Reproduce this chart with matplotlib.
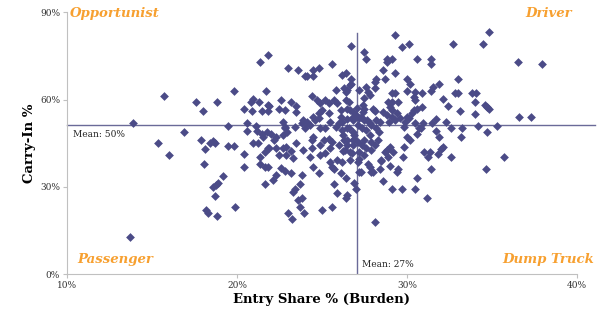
import matplotlib

matplotlib.use("Agg")

import matplotlib.pyplot as plt

# entry share % (x) and carry-in % (y)
entry_share = [
    13.7, 13.9, 15.7, 15.35, 16.0, 16.9, 17.6, 18.0, 18.8, 17.9, 18.1, 18.4, 18.6, 18.7,
    19.5, 19.8, 18.06, 19.2, 18.6, 18.75, 18.9, 18.7, 18.2, 18.3, 18.8, 19.9, 19.5, 19.8,
    20.4, 20.8, 20.96, 21.3, 20.9, 21.5, 21.8, 21.8, 20.6, 21.1, 21.35, 21.84, 21.7, 20.6,
    21.2, 21.5, 21.75, 20.96, 21.25, 21.8, 21.65, 20.4, 20.4, 21.35, 21.35, 21.65, 21.8,
    21.65, 21.55,
    26.7, 25.6, 23.0, 23.6, 24.0, 24.1, 24.5, 24.8, 24.5, 26.4, 26.7, 26.7, 26.65, 26.2,
    25.8, 26.3, 26.5, 26.4, 26.6, 25.7, 25.9, 25.2, 25.4, 24.4, 24.7, 24.9, 22.6, 23.2,
    23.5, 21.9, 22.5, 22.8, 23.5, 25.0, 24.8, 24.5, 24.6, 25.4, 26.1, 26.45, 26.65, 26.1,
    26.45, 26.75, 23.9, 24.1, 23.8, 22.7, 22.8, 23.4, 26.0, 26.2, 26.4,
    29.3, 29.7, 30.1, 27.5, 27.6, 28.8, 29.1, 28.8, 30.6, 31.4, 31.4, 28.6, 29.3, 28.2,
    28.1, 28.7, 30.0, 30.2, 31.9, 27.6, 28.1, 27.2, 27.7, 27.8, 27.5, 29.1, 29.3, 30.0,
    30.5, 30.9, 31.4, 30.4, 30.5, 32.1, 32.4, 28.9, 29.5, 29.1, 28.0, 28.1, 27.5, 27.4,
    29.0, 29.1, 30.4, 30.3, 30.9, 30.6, 28.6, 28.8, 29.1, 29.3, 28.96, 30.0, 31.7, 32.3,
    30.7, 27.3, 27.5, 27.8, 28.2, 28.4, 29.8, 31.55, 30.95, 31.5, 29.9, 30.1, 30.5, 29.6,
    29.4, 28.2,
    34.8, 32.7, 34.5, 36.55, 37.96, 33.0, 32.8, 33.0, 33.8, 34.06, 34.0, 33.1, 34.6, 34.7,
    34.8, 34.0, 36.6, 37.3, 34.2, 35.3, 33.25, 32.6, 34.7, 33.2, 32.6, 35.7, 34.65,
    28.1, 31.2, 29.1, 29.7, 30.5, 28.6, 30.6, 31.4, 29.5, 29.4, 28.4, 27.9, 27.8, 27.3,
    29.0, 29.75, 29.2, 29.8, 28.5, 28.7, 28.9, 31.0, 31.35, 31.25, 31.8, 32.1, 32.0, 31.7,
    31.9, 30.8, 30.6, 30.0, 30.2, 27.1, 27.2, 27.5, 28.5, 29.0, 28.8, 28.35, 27.7, 28.0,
    27.2, 27.0, 26.9,
    23.0, 23.25, 23.96, 25.0, 25.6, 23.7, 23.6, 23.8, 23.3, 23.4, 23.7, 25.7, 25.9, 26.5,
    26.4, 26.4, 26.1, 24.45, 24.8, 25.6, 25.7, 22.3, 22.1, 22.6, 22.8, 23.2, 24.3, 24.9,
    25.2, 25.5, 25.9, 26.2, 26.65, 26.75, 26.25, 22.7, 22.9, 23.3, 23.2, 22.3, 22.5, 23.5,
    23.9, 24.4, 24.5, 24.4, 24.9, 25.1, 25.4, 25.5, 22.9, 22.2, 21.9, 22.7, 22.0, 22.3,
    22.8, 24.9, 25.8, 26.2, 26.5, 25.6, 26.0, 26.35, 26.65, 26.85, 26.9, 26.85, 26.25,
    26.45, 23.8, 22.95,
    26.8, 27.0, 27.2, 27.4, 27.1, 27.35, 27.6, 27.8, 26.9, 26.8, 27.1, 27.35, 27.6, 27.9,
    27.2, 26.5, 26.3, 27.5, 27.9, 28.1, 28.3, 27.9, 27.65, 27.06, 26.8, 26.6, 24.0, 24.3,
    25.2, 25.5, 24.8,
]
carry_in = [
    12.8, 51.9, 61.2, 45.0, 40.9, 48.8, 59.1, 56.0, 59.1, 46.0, 43.0, 45.1, 45.8, 45.1,
    44.0, 44.0, 37.8, 33.8, 29.8, 30.6, 31.2, 26.9, 22.0, 20.9, 19.9, 23.0, 51.0, 63.1,
    56.9, 59.2, 60.1, 59.2, 56.0, 56.0, 58.0, 56.0, 52.1, 51.0, 73.0, 75.2, 63.1, 49.1,
    49.1, 48.0, 48.9, 45.1, 45.1, 43.2, 42.0, 41.1, 36.9, 40.1, 38.0, 36.9, 36.9,
    30.9, 47.2,
    78.4, 72.2, 71.0, 70.1, 68.1, 68.1, 70.1, 71.0, 68.1, 69.0, 66.9, 65.5, 64.9, 68.4,
    63.2, 63.8, 63.2, 59.8, 59.2, 59.8, 58.7, 59.8, 58.9, 61.2, 60.0, 58.9, 60.0, 59.2,
    57.7, 57.7, 56.9, 56.4, 55.8, 56.4, 55.2, 54.1, 52.9, 55.2, 56.4, 56.9, 56.4, 54.1,
    53.2, 53.5, 52.9, 52.3, 51.8, 52.3, 50.6, 50.6, 51.8, 52.3, 62.7,
    82.2, 78.2, 79.1, 76.2, 74.1, 74.1, 74.1, 73.0, 74.1, 74.1, 72.2, 70.1, 69.2, 66.9,
    66.1, 66.9, 67.2, 65.3, 65.3, 64.4, 63.8, 63.2, 62.7, 61.5, 60.4, 62.3, 62.3, 63.0,
    62.7, 62.3, 63.0, 61.0, 60.0, 60.1, 57.7, 59.2, 59.2, 59.2, 56.9, 56.0, 56.9, 58.1,
    57.3, 56.4, 56.4, 55.2, 57.3, 56.9, 55.8, 54.6, 54.1, 52.9, 52.3, 54.1, 53.3, 52.3,
    50.1, 54.1, 52.9, 51.8, 52.9, 52.3, 50.6, 64.4, 51.8, 52.0, 52.3, 53.5, 52.0, 53.5,
    55.2, 50.1,
    83.1, 79.1, 79.1, 73.0, 72.2, 67.1, 62.1, 62.1, 62.1, 62.1, 59.2, 56.1, 58.1, 57.3,
    56.6, 55.0, 54.0, 54.0, 50.9, 51.0, 50.1, 50.1, 49.0, 47.0, 40.1, 40.1, 36.0,
    17.9, 26.0, 29.1, 29.1, 29.1, 32.0, 33.1, 36.0, 36.0, 35.2, 36.0, 35.2, 36.9, 35.2,
    37.1, 40.1, 42.0, 43.7, 38.9, 42.0, 40.1, 42.0, 42.0, 40.1, 41.1, 43.7, 43.0, 49.1,
    47.0, 50.1, 48.0, 47.2, 46.0, 38.6, 39.5, 40.9, 39.2, 43.8, 42.6, 48.9, 37.8, 35.0,
    35.0, 29.1, 31.2,
    20.9, 18.9, 20.9, 22.0, 23.1, 23.1, 25.4, 26.0, 28.3, 29.4, 30.8, 30.8, 27.7, 27.1,
    26.2, 33.1, 34.9, 36.9, 34.9, 36.9, 36.0, 34.0, 32.3, 36.3, 35.4, 34.9, 40.1, 40.9,
    41.5, 38.6, 39.2, 38.6, 39.2, 41.5, 42.3, 43.2, 40.9, 39.8, 42.3, 43.2, 40.9, 44.9,
    42.6, 46.0, 47.2, 43.2, 44.3, 46.0, 46.6, 43.2, 43.8, 46.0, 43.2, 47.8, 48.3, 47.2,
    50.1, 50.1, 50.6, 49.5, 50.1, 45.5, 44.3, 42.6, 42.0, 44.3, 46.6, 48.9, 47.8,
    46.0, 34.0, 48.9,
    55.7, 54.6, 53.6, 55.7, 51.2, 50.2, 49.5, 47.8, 47.8, 46.0, 45.4, 44.3, 43.3, 42.6,
    41.9, 44.3, 46.0, 46.0, 45.4, 44.3, 46.0, 51.2, 52.9, 57.0, 52.9, 50.2, 50.2, 51.2,
    50.2, 52.2, 53.6,
]

mean_entry = 27.05
mean_carry = 51.1
x_ticks = [10, 20, 30, 40]
y_ticks = [0, 30, 60, 90]
quadrants = ["Opportunist", "Driver", "Passenger", "Dump Truck"]

SERIF = "DejaVu Serif"
POINT = "#4b4b87"
ORANGE = "#f7a030"
GRID = "#c0c0c0"

fig = plt.figure(figsize=(6.15, 3.17), dpi=100)
ax = fig.add_axes([0.1089, 0.1356, 0.8293, 0.8256])

ax.scatter(entry_share, carry_in, marker="D", s=20, color=POINT, linewidths=0, zorder=3)

# mean lines (horizontal one runs a little past the axis end)
ax.plot([10, 41.05], [mean_carry, mean_carry], color="#6a6a98", lw=1.0, clip_on=False, zorder=2)
ax.plot([mean_entry, mean_entry], [0, 83], color="#6a6a98", lw=1.0, zorder=2)
ax.text(10.35, mean_carry - 1.5, "Mean: 50%", fontsize=6.5, family=SERIF, va="top", ha="left", color="#222222")
ax.text(27.35, 1.8, "Mean: 27%", fontsize=6.5, family=SERIF, va="bottom", ha="left", color="#222222")

qstyle = dict(fontsize=9.5, family=SERIF, fontweight="bold", style="italic", color=ORANGE)
ax.text(10.15, 89.7, quadrants[0], ha="left", va="center", **qstyle)
ax.text(39.7, 89.7, quadrants[1], ha="right", va="center", **qstyle)
ax.text(10.6, 4.9, quadrants[2], ha="left", va="center", **qstyle)
ax.text(41.0, 5.1, quadrants[3], ha="right", va="center", **qstyle)

ax.set_xlim(10, 40)
ax.set_ylim(0, 90)
ax.set_xticks(x_ticks)
ax.set_yticks(y_ticks)
ax.set_xticklabels([f"{v}%" for v in x_ticks], family=SERIF, fontsize=6.5, color="#333333")
ax.set_yticklabels([f"{v}%" for v in y_ticks], family=SERIF, fontsize=6.5, color="#333333")
ax.tick_params(length=3, width=0.8, color=GRID, pad=2)

for side in ["top", "right"]:
    ax.spines[side].set_visible(False)
for side in ["left", "bottom"]:
    ax.spines[side].set_color(GRID)
    ax.spines[side].set_linewidth(0.8)

ax.set_xlabel("Entry Share % (Burden)", family=SERIF, fontsize=9.5, fontweight="bold", labelpad=2)
ax.set_ylabel("Carry-In %", family=SERIF, fontsize=9.5, fontweight="bold", labelpad=3)

fig.savefig("out.png", dpi=100)
plt.close(fig)
